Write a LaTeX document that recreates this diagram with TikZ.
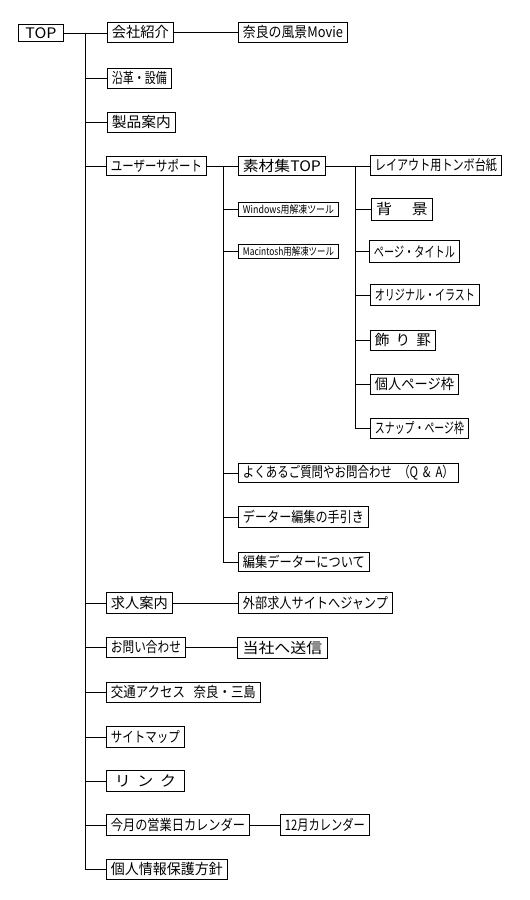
\documentclass[tikz,border=0pt]{standalone}
\usepackage{fontspec}
\usepackage{graphicx}
\setmainfont{Noto Sans CJK JP}
\newlength\fitlen
\newcommand\fitto[2]{\settowidth{\fitlen}{#2}\pgfmathsetmacro\fitsc{max(0.65,min(1.1,(#1)/\fitlen))}\scalebox{\fitsc}[1]{#2}}
\tikzset{
  bx/.style={draw, line width=0.9pt, inner sep=0pt, anchor=north west,
    font=\fontsize{14.5}{15}\selectfont},
  small/.style={font=\fontsize{10.5}{11}\selectfont},
  ln/.style={line width=0.9pt}
}
\newcommand\bx[7][]{\node[bx,#1, minimum width=#5pt, minimum height=#6pt] (#2) at (#3,#4) {\fitto{#5-9}{#7}};}
\begin{document}
\begin{tikzpicture}[x=1pt,y=-1pt]
\useasboundingbox[fill=white] (0,0) rectangle (530,900);
\bx{top}{18}{24}{45}{17}{TOP}
\bx{kaisha}{107}{22}{66}{20}{会社紹介}
\bx{nara}{238}{22}{109}{20}{奈良の風景Movie}
\bx{enkaku}{107}{68}{64}{20}{沿革・設備}
\bx{seihin}{107}{112}{68}{20}{製品案内}
\bx{user}{106}{156}{100}{19}{ユーザーサポート}
\bx{sozai}{238}{156}{87}{19}{素材集TOP}
\bx{layout}{370}{155}{131}{20}{レイアウト用トンボ台紙}
\bx[small]{win}{238}{202}{100}{14}{Windows用解凍ツール}
\bx[small]{mac}{238}{244}{100}{14}{Macintosh用解凍ツール}
\bx{haikei}{371}{198}{61}{22}{背\hspace{18pt}景}
\bx{page}{369}{240}{90}{22}{ページ・タイトル}
\bx{original}{370}{284}{109}{21}{オリジナル・イラスト}
\bx{kazari}{370}{330}{65}{20}{飾\hspace{6pt}り\hspace{6pt}罫}
\bx{kojin}{370}{374}{88}{20}{個人ページ枠}
\bx{snap}{370}{418}{98}{20}{スナップ・ページ枠}
\bx{faq}{238}{463}{220}{19}{よくあるご質問やお問合わせ\hspace{8pt}（Q\hspace{6pt}\&\hspace{6pt}A）}
\bx{data}{238}{506}{130}{21}{データー編集の手引き}
\bx{henshu}{238}{552}{131}{19}{編集データーについて}
\bx{kyujin}{106}{592}{66}{21}{求人案内}
\bx{gaibu}{238}{592}{154}{21}{外部求人サイトへジャンプ}
\bx{toi}{106}{637}{79}{20}{お問い合わせ}
\bx{soushin}{237}{637}{90}{21}{当社へ送信}
\bx{kotsu}{106}{682}{154}{20}{交通アクセス\hspace{10pt}奈良・三島}
\bx{sitemap}{106}{726}{78}{21}{サイトマップ}
\bx{link}{106}{770}{78}{21}{リ\hspace{6pt}ン\hspace{6pt}ク}
\bx{cal}{106}{814}{143}{21}{今月の営業日カレンダー}
\bx{dec}{280}{814}{89}{21}{12月カレンダー}
\bx{privacy}{106}{859}{121}{20}{個人情報保護方針}
% main trunk
\coordinate (tr) at (85,32.5);
\draw[ln] (top.east) -- (top.east -| kaisha.west);
\draw[ln] (tr) -- (tr |- privacy.west) -- (privacy.west);
\foreach \n in {enkaku,seihin,user,kyujin,toi,kotsu,sitemap,link,cal}
  \draw[ln] (tr |- \n.west) -- (\n.west);
% second-level links
\draw[ln] (kaisha.east) -- (kaisha.east -| nara.west);
\draw[ln] (kyujin.east) -- (kyujin.east -| gaibu.west);
\draw[ln] (toi.east) -- (toi.east -| soushin.west);
\draw[ln] (cal.east) -- (cal.east -| dec.west);
% user support branch
\draw[ln] (user.east) -- (user.east -| sozai.west);
\coordinate (ub) at (223,165.5);
\draw[ln] (ub) -- (ub |- henshu.west) -- (henshu.west);
\foreach \n in {win,mac,faq,data}
  \draw[ln] (ub |- \n.west) -- (\n.west);
% materials branch
\draw[ln] (sozai.east) -- (sozai.east -| layout.west);
\coordinate (sb) at (355,165.5);
\draw[ln] (sb) -- (sb |- snap.west) -- (snap.west);
\foreach \n in {haikei,page,original,kazari,kojin}
  \draw[ln] (sb |- \n.west) -- (\n.west);
\end{tikzpicture}
\end{document}
